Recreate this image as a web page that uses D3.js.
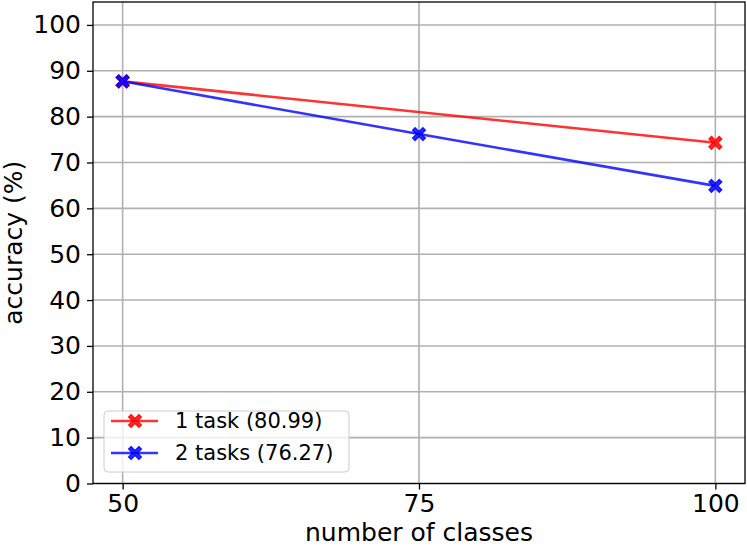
<!DOCTYPE html>
<html><head><meta charset="utf-8">
<script src="https://cdn.jsdelivr.net/npm/d3@7"></script>
<style>body{margin:0;background:#fff}svg{display:block;font-family:"DejaVu Sans",sans-serif}</style>
</head><body><svg id="c" width="747" height="548"></svg>
<script>
const classes = [50, 75, 100];
const oneTask = [[50, 87.7], [100, 74.3]];
const twoTasks = [[50, 87.7], [75, 76.2], [100, 64.9]];
const seriesNames = ["1 task (80.99)", "2 tasks (76.27)"];
const yTicks = [0,10,20,30,40,50,60,70,80,90,100];

const svg = d3.select("#c");
const L = 93, R = 745, T = 2, B = 483.5;
const x = d3.scaleLinear().domain([47.5, 102.5]).range([L, R]);
const y = d3.scaleLinear().domain([0, 105]).range([B, T]);
const grid = "#b0b0b0";

// grid
svg.append("g").selectAll("line").data(yTicks).join("line")
  .attr("x1", L).attr("x2", R).attr("y1", d => y(d)).attr("y2", d => y(d))
  .attr("stroke", grid).attr("stroke-width", 1.6);
svg.append("g").selectAll("line").data(classes).join("line")
  .attr("x1", d => x(d)).attr("x2", d => x(d)).attr("y1", T).attr("y2", B)
  .attr("stroke", grid).attr("stroke-width", 1.6);

// axes
const fs = 25;
const ya = svg.append("g").attr("transform", `translate(${L},0)`)
  .call(d3.axisLeft(y).tickValues(yTicks).tickSize(6).tickPadding(6));
const xa = svg.append("g").attr("transform", `translate(0,${B})`)
  .call(d3.axisBottom(x).tickValues(classes).tickSize(6).tickPadding(5));
[ya, xa].forEach(a => {
  a.select(".domain").remove();
  a.selectAll("line").attr("stroke", "#000").attr("stroke-width", 1.3);
  a.selectAll("text").attr("font-size", fs).attr("fill", "#000").attr("font-family", "DejaVu Sans");
});
svg.append("rect").attr("x", L).attr("y", T).attr("width", R - L).attr("height", B - T)
  .attr("fill", "none").attr("stroke", "#000").attr("stroke-width", 1.3);

// filled X marker (matplotlib 'X' style)
function xMarker(s) {
  const a = s, t = s * 0.4;
  const pts = [[-a+t,-a],[0,-t],[a-t,-a],[a,-a+t],[t,0],[a,a-t],[a-t,a],[0,t],[-a+t,a],[-a,a-t],[-t,0],[-a,-a+t]];
  return "M" + pts.map(p => p.join(",")).join("L") + "Z";
}
const mk = xMarker(6.5);

// lines
const line = d3.line().x(d => x(d[0])).y(d => y(d[1]));
function drawSeries(data, color) {
  svg.append("path").datum(data).attr("d", line).attr("fill", "none")
    .attr("stroke", color).attr("stroke-width", 2.6).attr("stroke-opacity", 0.8);
  svg.append("g").selectAll("path").data(data).join("path")
    .attr("transform", d => `translate(${x(d[0])},${y(d[1])})`)
    .attr("d", mk).attr("fill", color).attr("fill-opacity", 0.85)
    .attr("stroke", color).attr("stroke-opacity", 0.85).attr("stroke-width", 1.2);
}
drawSeries(oneTask, "red");
drawSeries(twoTasks, "blue");

// labels
svg.append("text").attr("x", x(75)).attr("y", 541).attr("text-anchor", "middle")
  .attr("font-size", fs).text("number of classes");
svg.append("text").attr("transform", `translate(22,${(T + B) / 2}) rotate(-90)`)
  .attr("text-anchor", "middle").attr("font-size", fs).text("accuracy (%)");

// legend
const lg = svg.append("g");
lg.append("rect").attr("x", 104).attr("y", 411).attr("width", 245).attr("height", 61)
  .attr("rx", 4).attr("fill", "#fff").attr("fill-opacity", 0.8).attr("stroke", "#ccc");
const colors = ["red", "blue"];
seriesNames.forEach((n, i) => {
  const cy = 421 + i * 32;
  lg.append("line").attr("x1", 111).attr("x2", 158).attr("y1", cy).attr("y2", cy)
    .attr("stroke", colors[i]).attr("stroke-width", 2.6).attr("stroke-opacity", 0.8);
  lg.append("path").attr("transform", `translate(135,${cy})`).attr("d", mk)
    .attr("fill", colors[i]).attr("fill-opacity", 0.85)
    .attr("stroke", colors[i]).attr("stroke-opacity", 0.85).attr("stroke-width", 1.2);
  lg.append("text").attr("x", 175).attr("y", cy).attr("dy", "0.35em")
    .attr("font-size", 21).text(n);
});
</script></body></html>
